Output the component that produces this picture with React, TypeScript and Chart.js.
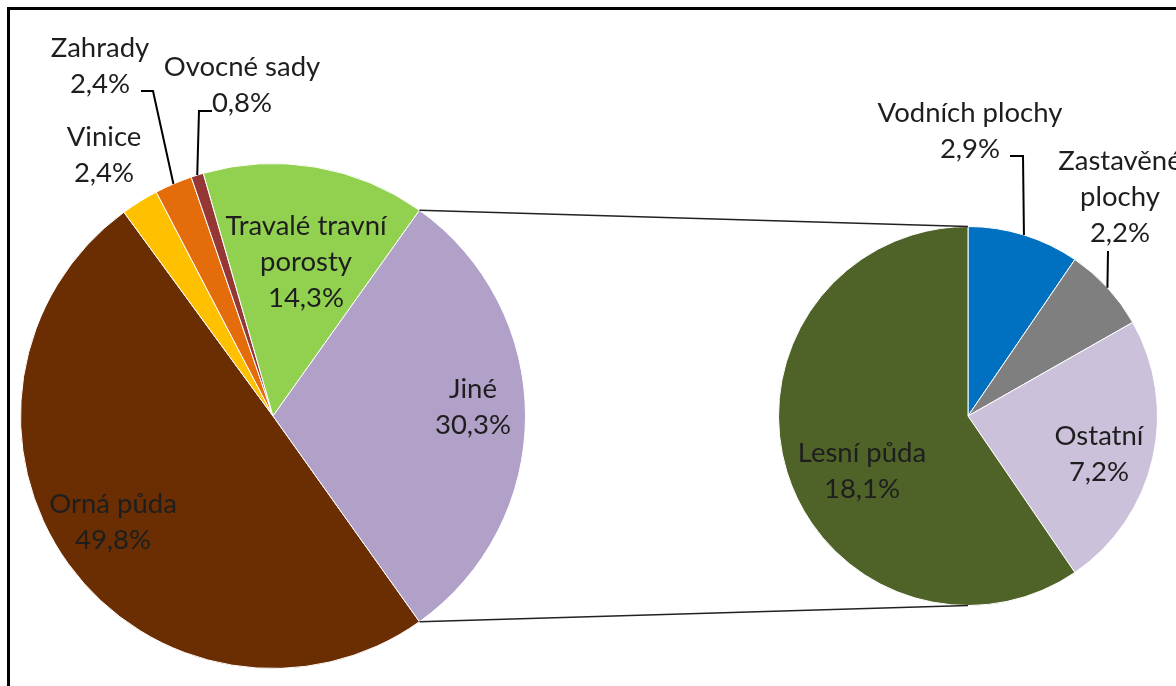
import React, { useEffect, useRef } from "react";
import { Chart, registerables } from "chart.js";

Chart.register(...registerables);

// ---- data ----
const mainCategories = ["Orná půda", "Vinice", "Zahrady", "Ovocné sady", "Travalé travní porosty", "Jiné"];
const mainValues = [49.8, 2.4, 2.4, 0.8, 14.3, 30.3];
const mainLabelText = ["49,8%", "2,4%", "2,4%", "0,8%", "14,3%", "30,3%"];
const mainColors = ["#6A2E02", "#FFC000", "#E46C0A", "#953735", "#92D050", "#B1A0C7"];

const subCategories = ["Vodních plochy", "Zastavěné plochy", "Ostatní", "Lesní půda"];
const subValues = [2.9, 2.2, 7.2, 18.1];
const subLabelText = ["2,9%", "2,2%", "7,2%", "18,1%"];
const subColors = ["#0070C0", "#7F7F7F", "#CCC1DA", "#4F6228"];

// ---- layout (label placement only) ----
const W = 1176;
const H = 686;
const FONT = "27.5px Lato";
const LINE_H = 36;

type Lbl = { lines: string[]; x: number; y: number; elbow?: [number, number][] };

const mainLabels: Lbl[] = [
  { lines: ["Orná půda", mainLabelText[0]], x: 113, y: 513 },
  { lines: ["Vinice", mainLabelText[1]], x: 104, y: 146 },
  { lines: ["Zahrady", mainLabelText[2]], x: 100, y: 57, elbow: [[141, 91], [153, 91]] },
  { lines: ["Ovocné sady", mainLabelText[3]], x: 242, y: 76, elbow: [[212, 111], [199, 111]] },
  { lines: ["Travalé travní", "porosty", mainLabelText[4]], x: 306, y: 235 },
  { lines: ["Jiné", mainLabelText[5]], x: 473, y: 398 },
];

const subLabels: Lbl[] = [
  { lines: ["Vodních plochy", subLabelText[0]], x: 970, y: 122, elbow: [[1010, 156], [1023, 156]] },
  { lines: ["Zastavěné", "plochy", subLabelText[1]], x: 1120, y: 170, elbow: [[1108, 251]] },
  { lines: ["Ostatní", subLabelText[2]], x: 1099, y: 445 },
  { lines: ["Lesní půda", subLabelText[3]], x: 862, y: 462 },
];

function drawLabels(chart: any, labels: Lbl[]) {
  const ctx = chart.ctx as CanvasRenderingContext2D;
  const arcs = chart.getDatasetMeta(0).data as any[];
  ctx.save();
  labels.forEach((l, i) => {
    if (l.elbow) {
      const a = arcs[i];
      const mid = (a.startAngle + a.endAngle) / 2;
      const ex = a.x + Math.cos(mid) * a.outerRadius;
      const ey = a.y + Math.sin(mid) * a.outerRadius;
      ctx.beginPath();
      ctx.strokeStyle = "#000";
      ctx.lineWidth = 2;
      ctx.moveTo(l.elbow[0][0], l.elbow[0][1]);
      for (let k = 1; k < l.elbow.length; k++) ctx.lineTo(l.elbow[k][0], l.elbow[k][1]);
      ctx.lineTo(ex, ey);
      ctx.stroke();
    }
    ctx.fillStyle = "#1e1e1e";
    ctx.font = FONT;
    ctx.textAlign = "center";
    ctx.textBaseline = "alphabetic";
    l.lines.forEach((t, k) => ctx.fillText(t, l.x, l.y + k * LINE_H));
  });
  ctx.restore();
}

export default function App() {
  const c1 = useRef<HTMLCanvasElement>(null);
  const c2 = useRef<HTMLCanvasElement>(null);

  useEffect(() => {
    const total = mainValues.reduce((s, v) => s + v, 0);
    const lastFrac = mainValues[mainValues.length - 1] / total;
    // Jiné is centred at 3 o'clock
    const rotation = 90 + (lastFrac * 360) / 2;

    const left = new Chart(c1.current!, {
      type: "pie",
      data: {
        labels: mainCategories,
        datasets: [{ data: mainValues, backgroundColor: mainColors, borderColor: "#ffffff", borderWidth: 1 }],
      },
      options: {
        responsive: false,
        animation: false,
        rotation,
        layout: { padding: { left: 20, top: 163, right: W - 526, bottom: H - 669 } },
        plugins: { legend: { display: false }, tooltip: { enabled: false } },
      },
      plugins: [{ id: "lbl1", afterDatasetsDraw: (ch: any) => drawLabels(ch, mainLabels) }],
    } as any);

    const right = new Chart(c2.current!, {
      type: "pie",
      data: {
        labels: subCategories,
        datasets: [{ data: subValues, backgroundColor: subColors, borderColor: "#ffffff", borderWidth: 1 }],
      },
      options: {
        responsive: false,
        animation: false,
        rotation: 0,
        layout: { padding: { left: 778, top: 226, right: W - 1158, bottom: H - 606 } },
        plugins: { legend: { display: false }, tooltip: { enabled: false } },
      },
      plugins: [
        {
          id: "conn",
          afterDatasetsDraw: (ch: any) => {
            const ctx = ch.ctx as CanvasRenderingContext2D;
            const la = left.getDatasetMeta(0).data[mainValues.length - 1] as any;
            const ra = ch.getDatasetMeta(0).data[0] as any;
            const p1x = la.x + Math.cos(la.startAngle) * la.outerRadius;
            const p1y = la.y + Math.sin(la.startAngle) * la.outerRadius;
            const p2x = la.x + Math.cos(la.endAngle) * la.outerRadius;
            const p2y = la.y + Math.sin(la.endAngle) * la.outerRadius;
            ctx.save();
            ctx.strokeStyle = "#222";
            ctx.lineWidth = 1.5;
            ctx.beginPath();
            ctx.moveTo(p1x, p1y);
            ctx.lineTo(ra.x, ra.y - ra.outerRadius);
            ctx.moveTo(p2x, p2y);
            ctx.lineTo(ra.x, ra.y + ra.outerRadius);
            ctx.stroke();
            ctx.restore();
            drawLabels(ch, subLabels);
          },
        },
      ],
    } as any);

    return () => {
      right.destroy();
      left.destroy();
    };
  }, []);

  return (
    <div style={{ position: "fixed", left: 0, top: 0, width: W, height: H, overflow: "hidden", background: "#fff" }}>
      <div
        style={{
          position: "absolute",
          left: 7,
          top: 7,
          width: 2000,
          height: 2000,
          border: "3px solid #000",
          boxSizing: "border-box",
        }}
      />
      <canvas ref={c1} width={W} height={H} style={{ position: "absolute", left: 0, top: 0 }} />
      <canvas ref={c2} width={W} height={H} style={{ position: "absolute", left: 0, top: 0 }} />
    </div>
  );
}
